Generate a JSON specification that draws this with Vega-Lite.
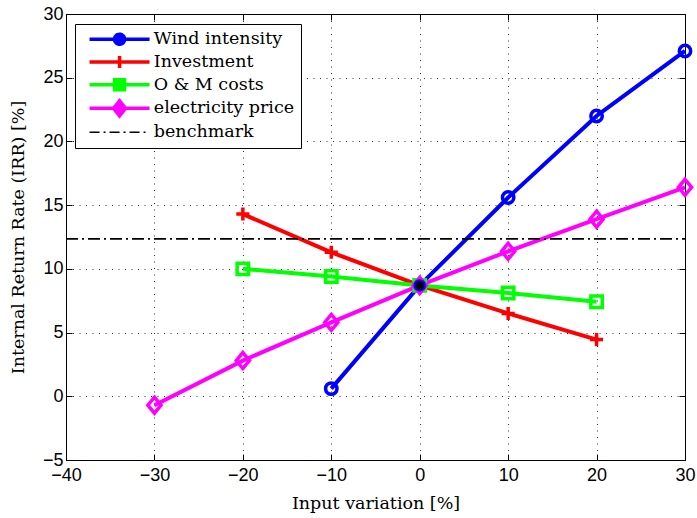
{
  "$schema": "https://vega.github.io/schema/vega-lite/v6.json",
  "autosize": {"type": "none"},
  "padding": {"left": 66, "top": 14, "right": 12, "bottom": 58},
  "width": 619,
  "height": 446,
  "background": "white",
  "config": {
    "view": {"stroke": "black", "strokeWidth": 1},
    "axis": {
      "labelFont": "Liberation Sans",
      "labelFontSize": 18,
      "labelColor": "black",
      "titleFont": "DejaVu Serif",
      "titleFontSize": 17.5,
      "titleFontWeight": "normal",
      "titleColor": "black",
      "domainColor": "black",
      "tickColor": "black",
      "gridColor": "black",
      "gridOpacity": 0.8,
      "gridDash": [1, 5.5],
      "gridWidth": 1
    }
  },
  "data": {
    "values": [
      {"series": "Wind intensity", "x": -10, "y": 0.6},
      {"series": "Wind intensity", "x": 0, "y": 8.7},
      {"series": "Wind intensity", "x": 10, "y": 15.6},
      {"series": "Wind intensity", "x": 20, "y": 22.0},
      {"series": "Wind intensity", "x": 30, "y": 27.1},
      {"series": "Investment", "x": -20, "y": 14.3},
      {"series": "Investment", "x": -10, "y": 11.3},
      {"series": "Investment", "x": 0, "y": 8.7},
      {"series": "Investment", "x": 10, "y": 6.5},
      {"series": "Investment", "x": 20, "y": 4.45},
      {"series": "O & M costs", "x": -20, "y": 10.0},
      {"series": "O & M costs", "x": -10, "y": 9.4},
      {"series": "O & M costs", "x": 0, "y": 8.7},
      {"series": "O & M costs", "x": 10, "y": 8.1},
      {"series": "O & M costs", "x": 20, "y": 7.42},
      {"series": "electricity price", "x": -30, "y": -0.7},
      {"series": "electricity price", "x": -20, "y": 2.8},
      {"series": "electricity price", "x": -10, "y": 5.8},
      {"series": "electricity price", "x": 0, "y": 8.7},
      {"series": "electricity price", "x": 10, "y": 11.38},
      {"series": "electricity price", "x": 20, "y": 13.9},
      {"series": "electricity price", "x": 30, "y": 16.4},
      {"series": "benchmark", "x": -40, "y": 12.35},
      {"series": "benchmark", "x": 30, "y": 12.35}
    ]
  },
  "layer": [
    {
      "transform": [{"filter": "datum.series !== 'benchmark'"}],
      "mark": {"type": "line", "strokeCap": "butt", "strokeJoin": "round", "strokeWidth": 4},
      "encoding": {
        "x": {
          "field": "x", "type": "quantitative",
          "scale": {"domain": [-40, 30], "nice": false, "zero": false},
          "axis": {
            "orient": "bottom", "title": "Input variation [%]",
            "values": [-40, -30, -20, -10, 0, 10, 20, 30],
            "grid": true, "tickSize": -6, "labelPadding": 12, "titlePadding": 10,
            "labelFlush": false, "labelOverlap": false
          }
        },
        "y": {
          "field": "y", "type": "quantitative",
          "scale": {"domain": [-5, 30], "nice": false, "zero": false},
          "axis": {
            "orient": "left", "title": "Internal Return Rate (IRR) [%]",
            "values": [-5, 0, 5, 10, 15, 20, 25, 30],
            "grid": true, "tickSize": -6, "labelPadding": 9, "titlePadding": 15,
            "labelFlush": false, "labelOverlap": false
          }
        },
        "color": {
          "field": "series", "type": "nominal",
          "scale": {
            "domain": ["Wind intensity", "Investment", "O & M costs", "electricity price", "benchmark"],
            "range": ["#0000ff", "#ff0000", "#00ff00", "#ff00ff", "#000000"]
          },
          "legend": {
            "orient": "none", "legendX": 9, "legendY": 10,
            "title": null, "padding": 6.5,
            "strokeColor": "black", "fillColor": "white", "cornerRadius": 0,
            "labelFont": "DejaVu Serif", "labelFontSize": 17.5, "labelColor": "black",
            "symbolSize": 225, "rowPadding": -3.3,
            "symbolOffset": 29.3, "labelOffset": 25.5,
            "symbolStrokeWidth": 3.5,
            "encode": {
              "symbols": {
                "update": {
                  "size": {"value": 225},
                  "shape": {"signal": "datum.value === 'Wind intensity' ? 'M-4,0H4M0.67,0A0.67,0.67,0,1,1,-0.67,0A0.67,0.67,0,1,1,0.67,0Z' : datum.value === 'Investment' ? 'M-4,0H4M0,-0.8V0.8' : datum.value === 'O & M costs' ? 'M-4,0H4M-0.67,-0.67H0.67V0.67H-0.67Z' : datum.value === 'electricity price' ? 'M-4,0H4M0,-1L0.8,0L0,1L-0.8,0Z' : 'M-4,0H4'"},
                  "fill": {"signal": "datum.value === 'Wind intensity' ? '#0000ff' : datum.value === 'Investment' ? '#ff0000' : datum.value === 'O & M costs' ? '#00ff00' : datum.value === 'electricity price' ? '#ff00ff' : 'transparent'"},
                  "stroke": {"signal": "datum.value === 'Wind intensity' ? '#0000ff' : datum.value === 'Investment' ? '#ff0000' : datum.value === 'O & M costs' ? '#00ff00' : datum.value === 'electricity price' ? '#ff00ff' : '#000000'"},
                  "strokeWidth": {"signal": "datum.value === 'benchmark' ? 1.5 : 3.5"},
                  "strokeDash": {"signal": "datum.value === 'benchmark' ? [10, 4, 2, 4] : [1, 0]"},
                  "opacity": {"value": 1}
                }
              }
            }
          }
        }
      }
    },
    {
      "transform": [{"filter": "datum.series === 'benchmark'"}],
      "mark": {"type": "line", "color": "black", "strokeWidth": 1.8, "strokeDash": [12, 4, 2, 4]},
      "encoding": {
        "x": {"field": "x", "type": "quantitative", "axis": null},
        "y": {"field": "y", "type": "quantitative", "axis": null}
      }
    },
    {
      "transform": [{"filter": "datum.series !== 'benchmark'"}],
      "mark": {"type": "point", "filled": false, "strokeWidth": 3.5, "size": 130, "opacity": 1},
      "encoding": {
        "x": {
          "field": "x", "type": "quantitative",
          "axis": {
            "orient": "top", "title": null, "labels": false, "grid": false, "domain": false,
            "values": [-40, -30, -20, -10, 0, 10, 20, 30], "tickSize": -6
          }
        },
        "y": {
          "field": "y", "type": "quantitative",
          "axis": {
            "orient": "right", "title": null, "labels": false, "grid": false, "domain": false,
            "values": [-5, 0, 5, 10, 15, 20, 25, 30], "tickSize": -6
          }
        },
        "color": {"field": "series", "type": "nominal"},
        "shape": {
          "field": "series", "type": "nominal",
          "scale": {
            "domain": ["Wind intensity", "Investment", "O & M costs", "electricity price"],
            "range": ["circle", "M-1.15,0H1.15M0,-1.15V1.15", "square", "M0,-1.4L1.15,0L0,1.4L-1.15,0Z"]
          },
          "legend": null
        }
      }
    },
    {
      "data": {"values": [{"x": 0, "y": 8.7}]},
      "mark": {"type": "point", "shape": "circle", "filled": true, "fill": "black", "stroke": "#0000ff", "strokeWidth": 2, "size": 110, "opacity": 1},
      "encoding": {
        "x": {"field": "x", "type": "quantitative", "axis": null},
        "y": {"field": "y", "type": "quantitative", "axis": null}
      }
    }
  ],
  "resolve": {"axis": {"x": "independent", "y": "independent"}}
}
